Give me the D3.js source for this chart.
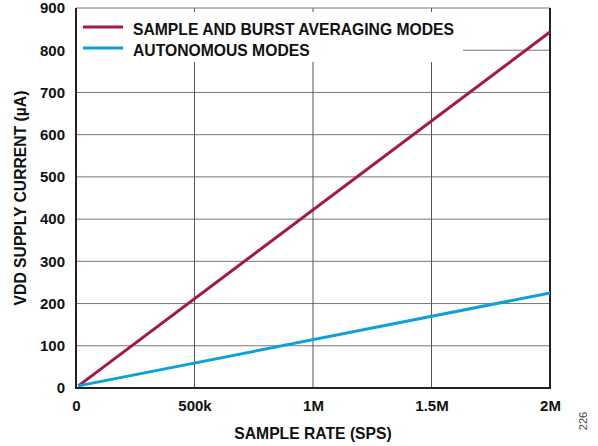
<!DOCTYPE html>
<html><head><meta charset="utf-8">
<script src="https://cdn.jsdelivr.net/npm/d3@7"></script>
<style>body{margin:0;background:#fff}svg{display:block}text{font-family:"Liberation Sans",Arial,sans-serif}</style>
</head><body>
<svg id="c" width="598" height="446"></svg>
<script>
const seriesNames = ["SAMPLE AND BURST AVERAGING MODES", "AUTONOMOUS MODES"];
const seriesColors = ["#A3174B", "#0FA0D8"];
const sampleRates = [10000, 2000000];
const sampleBurstCurrent = [5, 843];
const autonomousCurrent = [5, 225];
const xTicks = [0, 500000, 1000000, 1500000, 2000000];
const xTickLabels = ["0", "500k", "1M", "1.5M", "2M"];
const yTicks = [0, 100, 200, 300, 400, 500, 600, 700, 800, 900];

const svg = d3.select("#c");
const L = 76, R = 550, T = 8, B = 388;
const x = d3.scaleLinear().domain([0, 2000000]).range([L, R]);
const y = d3.scaleLinear().domain([0, 900]).range([B, T]);

// grid
svg.append("g").selectAll("line").data(yTicks.slice(1, -1)).join("line")
  .attr("x1", L).attr("x2", R).attr("y1", d => y(d)).attr("y2", d => y(d))
  .attr("stroke", "#777").attr("stroke-width", 1);
svg.append("g").selectAll("line").data(xTicks.slice(1, -1)).join("line")
  .attr("x1", d => x(d)).attr("x2", d => x(d)).attr("y1", T).attr("y2", B)
  .attr("stroke", "#555").attr("stroke-width", 1);
// top border thin
svg.append("line").attr("x1", L).attr("x2", R).attr("y1", T).attr("y2", T).attr("stroke", "#777").attr("stroke-width", 1);

// legend background
svg.append("rect").attr("x", L + 1).attr("y", 12).attr("width", 386).attr("height", 50).attr("fill", "#fff");

// frame (left, bottom, right)
svg.append("path").attr("d", `M${L},${T}V${B}H${R}V${T}`).attr("fill", "none").attr("stroke", "#222").attr("stroke-width", 2);

// lines
const line = d3.line().x(d => x(d[0])).y(d => y(d[1]));
const data = [sampleBurstCurrent, autonomousCurrent];
data.forEach((vals, i) => {
  svg.append("path").datum(sampleRates.map((r, j) => [r, vals[j]]))
    .attr("d", line).attr("fill", "none").attr("stroke", seriesColors[i]).attr("stroke-width", 3);
});

// axes labels
const xAxis = d3.axisBottom(x).tickValues(xTicks).tickFormat((d, i) => xTickLabels[i]).tickSize(0).tickPadding(12);
const gx = svg.append("g").attr("transform", `translate(0,${B})`).call(xAxis);
gx.select(".domain").remove();
gx.selectAll("text").attr("font-size", 15).attr("font-weight", "bold").attr("fill", "#111").attr("font-family", "Liberation Sans, Arial, sans-serif");

const yAxis = d3.axisLeft(y).tickValues(yTicks).tickSize(0).tickPadding(11);
const gy = svg.append("g").attr("transform", `translate(${L},0)`).call(yAxis);
gy.select(".domain").remove();
gy.selectAll("text").attr("font-size", 15).attr("font-weight", "bold").attr("fill", "#111").attr("font-family", "Liberation Sans, Arial, sans-serif");

// legend
const legendLineY = [27, 48];
seriesNames.forEach((n, i) => {
  const ly = legendLineY[i];
  svg.append("line").attr("x1", 83).attr("x2", 123).attr("y1", ly).attr("y2", ly).attr("stroke", seriesColors[i]).attr("stroke-width", 3);
  svg.append("text").attr("x", 133).attr("y", ly + 8).attr("font-size", 15.7).attr("font-weight", "bold").attr("fill", "#111").text(n);
});

// titles
svg.append("text").attr("x", (L + R) / 2).attr("y", 439).attr("text-anchor", "middle").attr("font-size", 15.7).attr("font-weight", "bold").attr("fill", "#111").text("SAMPLE RATE (SPS)");
svg.append("text").attr("transform", `translate(26,${(T + B) / 2}) rotate(-90)`).attr("text-anchor", "middle").attr("font-size", 15.7).attr("font-weight", "bold").attr("fill", "#111").text("VDD SUPPLY CURRENT (µA)");
svg.append("text").attr("transform", "translate(587,421) rotate(-90)").attr("text-anchor", "middle").attr("font-size", 11).attr("fill", "#444").text("226");
</script>
</body></html>
